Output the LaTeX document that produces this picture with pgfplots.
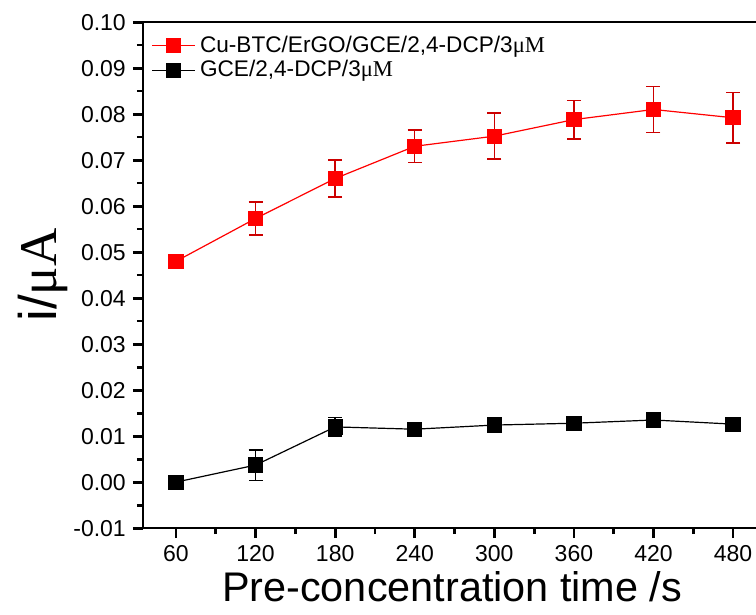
\documentclass[border=0pt]{standalone}
\usepackage{pgfplots}
\pgfplotsset{compat=1.18}
\usepackage{fontspec}
\setmainfont{Liberation Sans}
\newfontfamily\serifmu{Liberation Serif}
\begin{document}
\begin{tikzpicture}
\begin{axis}[
  scale only axis,
  width=318.3pt, height=253pt,
  xmin=35, xmax=515, ymin=-0.01, ymax=0.10,
  axis line style={line width=1.2pt},
  xtick={60,120,...,480},
  minor xtick={30,90,...,510},
  ytick={-0.01,0,0.01,...,0.1},
  minor ytick={-0.005,0.005,...,0.095},
  xtick pos=bottom, ytick pos=left,
  tick align=outside,
  major tick length=5pt, minor tick length=3pt,
  every tick/.style={line width=1.4pt, black},
  /pgf/number format/assume math mode=true,
  yticklabel style={/pgf/number format/.cd, fixed, fixed zerofill, precision=2},
  ticklabel style={font=\fontsize{11.5}{13}\selectfont},
  scaled y ticks=false,
  xlabel={Pre-concentration time /s},
  ylabel={i/{\serifmu μA}},
  xlabel style={font=\fontsize{20.7}{24}\selectfont, yshift=2pt, xshift=-4.5pt},
  ylabel style={font=\fontsize{26.5}{28}\selectfont, yshift=-4pt},
  legend style={draw=none, fill=none, at={(0.01,0.985)}, anchor=north west,
    font=\fontsize{11.3}{13}\selectfont, row sep=-1.5pt, inner sep=1pt},
  legend cell align=left,
  legend image code/.code={%
    \draw[mark repeat=2,mark phase=2] plot coordinates {(0cm,0cm) (0.38cm,0cm) (0.76cm,0cm)};},
]
\coordinate (BL) at (axis cs:-72.7,-0.0287);
\coordinate (TR) at (axis cs:497.3,0.1048);
\addplot[red, line width=0.6pt, mark=square*, mark size=3.5pt,
  mark options={solid, fill=red},
  error bars/.cd, y dir=both, y explicit,
  error bar style={line width=0.7pt, red!80!black},
  error mark options={rotate=90, mark size=3.5pt, line width=0.7pt, red!80!black}]
  coordinates {
  (60,0.0480) +- (0,0)
  (120,0.0573) +- (0,0.0036)
  (180,0.0660) +- (0,0.0040)
  (240,0.0730) +- (0,0.0035)
  (300,0.0752) +- (0,0.0050)
  (360,0.0788) +- (0,0.0042)
  (420,0.0810) +- (0,0.0050)
  (480,0.0792) +- (0,0.0055)
  };
\addlegendentry{Cu-BTC/ErGO/GCE/2,4-DCP/3{\serifmu μM}}
\addplot[black, line width=0.6pt, mark=square*, mark size=3.5pt,
  mark options={solid, fill=black},
  error bars/.cd, y dir=both, y explicit,
  error bar style={line width=0.7pt, black},
  error mark options={rotate=90, mark size=3.5pt, line width=0.7pt, black}]
  coordinates {
  (60,0.0000) +- (0,0)
  (120,0.0037) +- (0,0.0033)
  (180,0.0120) +- (0,0.0020)
  (240,0.0115) +- (0,0.0007)
  (300,0.0124) +- (0,0.0005)
  (360,0.0128) +- (0,0.0005)
  (420,0.0135) +- (0,0.0008)
  (480,0.0126) +- (0,0.0005)
  };
\addlegendentry{GCE/2,4-DCP/3{\serifmu μM}}
\end{axis}
\pgfresetboundingbox
\useasboundingbox (BL) rectangle (TR);
\end{tikzpicture}
\end{document}
